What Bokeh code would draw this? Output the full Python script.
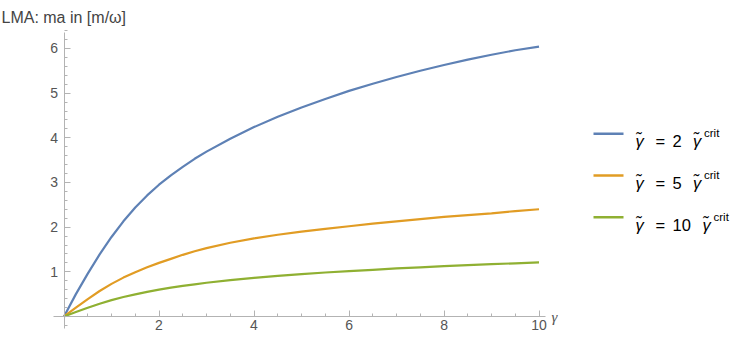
from bokeh.plotting import figure
from bokeh.models import Range1d, FixedTicker, Label, BoxAnnotation
from bokeh.embed import file_html
from bokeh.resources import INLINE

# ---- data ----
gamma = [0, 0.25, 0.5, 0.75, 1.0, 1.25, 1.5, 1.75, 2.0, 2.25, 2.5, 2.75, 3.0, 3.5, 4.0,
         4.5, 5.0, 5.5, 6.0, 6.5, 7.0, 7.5, 8.0, 8.5, 9.0, 9.5, 10.0]
ma_2 = [0, 0.50, 0.96, 1.39, 1.78, 2.13, 2.44, 2.71, 2.95, 3.16, 3.35, 3.53, 3.69, 3.98, 4.24,
        4.47, 4.68, 4.87, 5.05, 5.21, 5.36, 5.50, 5.63, 5.75, 5.86, 5.96, 6.04]
ma_5 = [0, 0.20, 0.39, 0.57, 0.73, 0.87, 0.99, 1.10, 1.20, 1.29, 1.38, 1.46, 1.53, 1.65, 1.75,
        1.83, 1.90, 1.96, 2.02, 2.08, 2.13, 2.18, 2.23, 2.27, 2.31, 2.36, 2.40]
ma_10 = [0, 0.10, 0.195, 0.285, 0.365, 0.435, 0.495, 0.55, 0.60, 0.645, 0.685, 0.72, 0.755,
         0.815, 0.865, 0.91, 0.95, 0.985, 1.015, 1.045, 1.075, 1.10, 1.125, 1.15, 1.17, 1.19, 1.21]
factors = ["2", "5", "10"]
colors = ["#5E81B5", "#E19C24", "#8FB032"]

x_ticks = [2, 4, 6, 8, 10]
x_minor = [0.5, 1, 1.5, 2.5, 3, 3.5, 4.5, 5, 5.5, 6.5, 7, 7.5, 8.5, 9, 9.5]
y_ticks = [1, 2, 3, 4, 5, 6]
y_minor = [round(-0.2 + 0.2 * i, 1) for i in range(34)]

title_text = "LMA: ma in [m/\u03c9]"
x_label_text = "\u03b3"

# ---- figure ----
W, H = 731, 335
p = figure(width=W, height=H, output_backend="svg", toolbar_location=None,
           x_range=Range1d(-1.337, 14.052), y_range=Range1d(-0.426, 7.074),
           min_border=0, title=None)
p.grid.visible = False
p.outline_line_color = None
p.background_fill_color = "white"
p.border_fill_color = "white"

axis_col = "#b3b3b3"
lab_col = "#555555"
for ax in (p.xaxis, p.yaxis):
    ax.fixed_location = 0
    ax.axis_line_color = axis_col
    ax.major_tick_line_color = axis_col
    ax.minor_tick_line_color = axis_col
    ax.major_tick_out = 0
    ax.major_tick_in = 6
    ax.minor_tick_out = 0
    ax.minor_tick_in = 3
    ax.major_label_text_font = "Liberation Sans"
    ax.major_label_text_font_size = "14px"
    ax.major_label_text_color = lab_col

p.xaxis.ticker = FixedTicker(ticks=x_ticks, minor_ticks=x_minor)
p.yaxis.ticker = FixedTicker(ticks=y_ticks, minor_ticks=y_minor)
p.xaxis.bounds = (-0.22, 10.14)
p.yaxis.bounds = (-0.28, 6.35)
p.xaxis.major_label_standoff = 4
p.yaxis.major_label_standoff = 6

for ys, c in zip([ma_2, ma_5, ma_10], colors):
    p.line(gamma, ys, line_color=c, line_width=2.2)

# axis labels
p.add_layout(Label(x=1, y=317.7, x_units="screen", y_units="screen", text=title_text,
                   text_font="Liberation Sans", text_font_size="16px", text_color="#444444",
                   text_baseline="alphabetic"))
p.add_layout(Label(x=551, y=19, x_units="screen", y_units="screen", text=x_label_text,
                   text_font="Liberation Serif", text_font_style="italic",
                   text_font_size="15px", text_color=lab_col, text_baseline="middle"))

# legend (manual, with superscripts)
gt = "\u03b3\u0303"
for i, (f, c) in enumerate(zip(factors, colors)):
    ly = 201.7 - 41.7 * i
    p.add_layout(BoxAnnotation(left=593, right=623, bottom=ly - 1.2, top=ly + 1.2,
                               left_units="screen", right_units="screen",
                               bottom_units="screen", top_units="screen",
                               fill_color=c, fill_alpha=1, line_color=None))
    base = ly - 7.4
    common = dict(x_units="screen", y_units="screen", text_font="Liberation Sans",
                  text_font_size="16.5px", text_color="black", text_baseline="alphabetic")
    p.add_layout(Label(x=635, y=base, text=gt, text_font_style="italic", **common))
    p.add_layout(Label(x=655, y=base, text="=", **common))
    p.add_layout(Label(x=672, y=base, text=f, **common))
    gx = 672 + 9.5 * len(f) + 11
    p.add_layout(Label(x=gx, y=base, text=gt, text_font_style="italic", **common))
    p.add_layout(Label(x=gx + 11, y=ly + 0.5, x_units="screen", y_units="screen",
                       text="crit", text_font="Liberation Sans", text_font_size="11.5px",
                       text_color="black", text_baseline="alphabetic"))

open("out.html", "w").write(file_html(p, INLINE))
